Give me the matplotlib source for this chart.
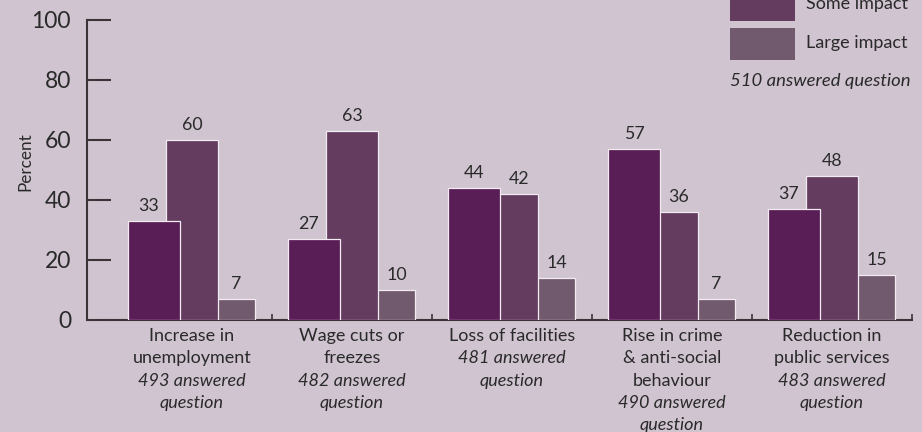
import numpy as np
import matplotlib
matplotlib.use("Agg")
import matplotlib.pyplot as plt
from matplotlib.patches import Rectangle

# ---- data ----
categories = [
    ["Increase in", "unemployment"],
    ["Wage cuts or", "freezes"],
    ["Loss of facilities"],
    ["Rise in crime", "& anti-social", "behaviour"],
    ["Reduction in", "public services"],
]
answered = [493, 482, 481, 490, 483]
series_names = ["No impact", "Some impact", "Large impact"]
no_impact = [33, 27, 44, 57, 37]
some_impact = [60, 63, 42, 36, 48]
large_impact = [7, 10, 14, 7, 15]
legend_note = "510 answered question"
y_ticks = [0, 20, 40, 60, 80, 100]

# ---- style ----
BG = "#cfc4cf"
TEXT = "#2a2a2a"
AXIS = "#3b3437"
COLORS = ["#5a1e57", "#643c5f", "#725a6e"]
FONT = "Lato"

plt.rcParams["font.family"] = [FONT, "DejaVu Sans"]

W, H = 922, 432
fig = plt.figure(figsize=(W / 100, H / 100), dpi=100, facecolor=BG)
ax = fig.add_axes([112 / W, 1 - 320 / H, 800 / W, 300 / H], facecolor=BG)

x = np.arange(len(categories))
width = 0.325
offsets = [-0.2375, 0.0, 0.23125]
values = [no_impact, some_impact, large_impact]

# later series sit behind earlier ones
for k, (vals, col) in enumerate(zip(values, COLORS)):
    ax.bar(x + offsets[k], vals, width=width, color=col, edgecolor="#f2ecf2",
           linewidth=0.9, zorder=5 - k)

# value labels over the visible part of each bar
r1 = offsets[0] + width / 2
r2 = offsets[1] + width / 2
r3 = offsets[2] + width / 2
for i in range(len(categories)):
    v1, v2, v3 = no_impact[i], some_impact[i], large_impact[i]
    lx1 = i + offsets[0] - (0.035 if v1 < v2 else 0.0)
    lx2 = i + (offsets[1] if v2 > v1 else (r1 + r2) / 2)
    lx3 = i + (r2 + r3) / 2
    for lx, v in ((lx1, v1), (lx2, v2), (lx3, v3)):
        ax.annotate(f"{v}", xy=(lx, v), xytext=(0, 7.2), textcoords="offset points",
                    ha="center", va="baseline", fontsize=12.8, color=TEXT)

ax.set_xlim(-0.5, len(categories) - 0.5)
ax.set_ylim(0, 100)

# axes styling
for s in ("top", "right"):
    ax.spines[s].set_visible(False)
ax.spines["left"].set_position(("outward", 18))
for s in ("left", "bottom"):
    ax.spines[s].set_color(AXIS)
    ax.spines[s].set_linewidth(1.5)

ax.set_yticks(y_ticks)
ax.tick_params(axis="y", direction="in", length=17.3, width=1.5, color=AXIS,
               labelsize=16.5, labelcolor=TEXT, pad=11.5)
ax.set_xticks([])
ax.set_xticks(np.arange(0.5, len(categories), 1.0), minor=True)
ax.tick_params(axis="x", which="minor", direction="in", length=4.3, width=1.2,
               color=AXIS)
ax.set_ylabel("Percent", fontsize=12.3, color=TEXT)
ax.yaxis.set_label_coords(-0.098, 0.527)

# category labels: name lines, then italic response count
line_offsets = [11.5, 27.6, 43.6, 59.8, 75.8]
for i, name_lines in enumerate(categories):
    lines = [(t, "normal") for t in name_lines]
    lines += [(f"{answered[i]} answered", "italic"), ("question", "italic")]
    for j, (txt, style) in enumerate(lines):
        ax.annotate(txt, xy=(i, 0), xycoords=("data", "axes fraction"),
                    xytext=(0, -line_offsets[j]), textcoords="offset points",
                    ha="center", va="center", fontsize=13, color=TEXT,
                    style=style, annotation_clip=False)

# legend in the top right corner
patch_w, patch_h, pitch = 65, 31, 38.5
first_bottom = 21 - pitch
for k, (name, col) in enumerate(zip(series_names, COLORS)):
    bottom = first_bottom + k * pitch
    fig.add_artist(Rectangle((730 / W, 1 - bottom / H), patch_w / W, patch_h / H,
                             transform=fig.transFigure, facecolor=col,
                             edgecolor="none"))
    fig.text(806 / W, 1 - (bottom - patch_h / 2 - 1) / H, name, ha="left",
             va="center", fontsize=13, color=TEXT)
fig.text(730 / W, 1 - 81 / H, legend_note, ha="left", va="center", fontsize=13.3,
         color=TEXT, style="italic")

fig.savefig("out.png", dpi=100, facecolor=BG)
